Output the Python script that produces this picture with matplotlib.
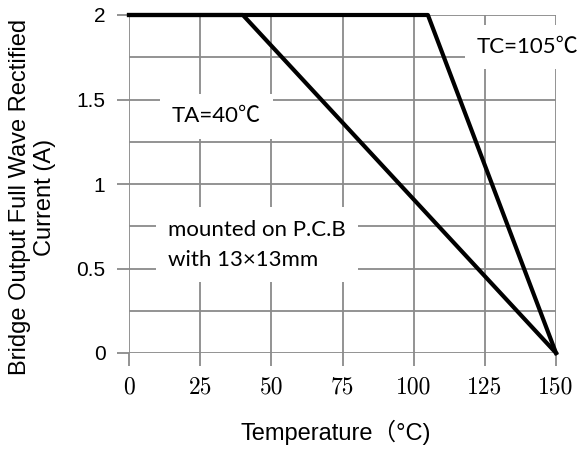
import matplotlib.pyplot as plt

# derating curves
temp_ta = [0, 40, 150]
cur_ta = [2, 2, 0]
temp_tc = [0, 105, 150]
cur_tc = [2, 2, 0]

x_ticks = [0, 25, 50, 75, 100, 125, 150]
y_ticks = [0, 0.5, 1, 1.5, 2]
y_ticks_minor = [0.25, 0.75, 1.25, 1.75]

grey = '#8a8a8a'
note_font = ['Lato', 'Noto Sans CJK JP']

fig = plt.figure(figsize=(5.79, 4.5), dpi=100)
ax = fig.add_axes([129 / 579, 1 - 353 / 450, 427 / 579, 338 / 450])

ax.plot(temp_ta, cur_ta, color='black', lw=3, zorder=4, clip_on=False)
ax.plot(temp_tc, cur_tc, color='black', lw=3, zorder=4, clip_on=False)

ax.set_xlim(0, 150)
ax.set_ylim(0, 2)
ax.set_xticks(x_ticks)
ax.set_yticks(y_ticks)
ax.set_yticks(y_ticks_minor, minor=True)
ax.set_yticklabels(['0', '0.5', '1', '1.5', '2'], family='Liberation Sans', fontsize=15)
ax.set_xticklabels([str(t) for t in x_ticks], family='cmr10', fontsize=17)
ax.tick_params(axis='both', which='major', length=9, width=1.3, color=grey, pad=8)
ax.tick_params(axis='y', which='minor', length=0)

ax.set_axisbelow(True)
ax.grid(True, which='both', color=grey, lw=1.3)
for s in ax.spines.values():
    s.set_visible(False)

box = dict(facecolor='white', edgecolor='none', boxstyle='square,pad=0.55')
ax.text(15.1, 1.40, 'TA=40℃', family=note_font, fontsize=16, va='center', ha='left',
        bbox=box, zorder=3)
ax.text(122.2, 1.81, 'TC=105℃', family=note_font, fontsize=16, va='center', ha='left',
        bbox=box, zorder=3, clip_on=False)
ax.text(13.7, 0.64, 'mounted on P.C.B\nwith 13×13mm', family=note_font, fontsize=16,
        va='center', ha='left', linespacing=1.65, bbox=box, zorder=3)

fig.text(0.056, 0.562, 'Bridge Output Full Wave Rectified\nCurrent (A)', rotation=90,
         ha='center', va='center', multialignment='center', family='Liberation Sans',
         fontsize=17, linespacing=1.15)
fig.text(0.580, 0.040, 'Temperature（°C)', ha='center', va='center',
         family=['Liberation Sans', 'Noto Sans CJK JP'], fontsize=17)

fig.savefig('out.png', dpi=100)
